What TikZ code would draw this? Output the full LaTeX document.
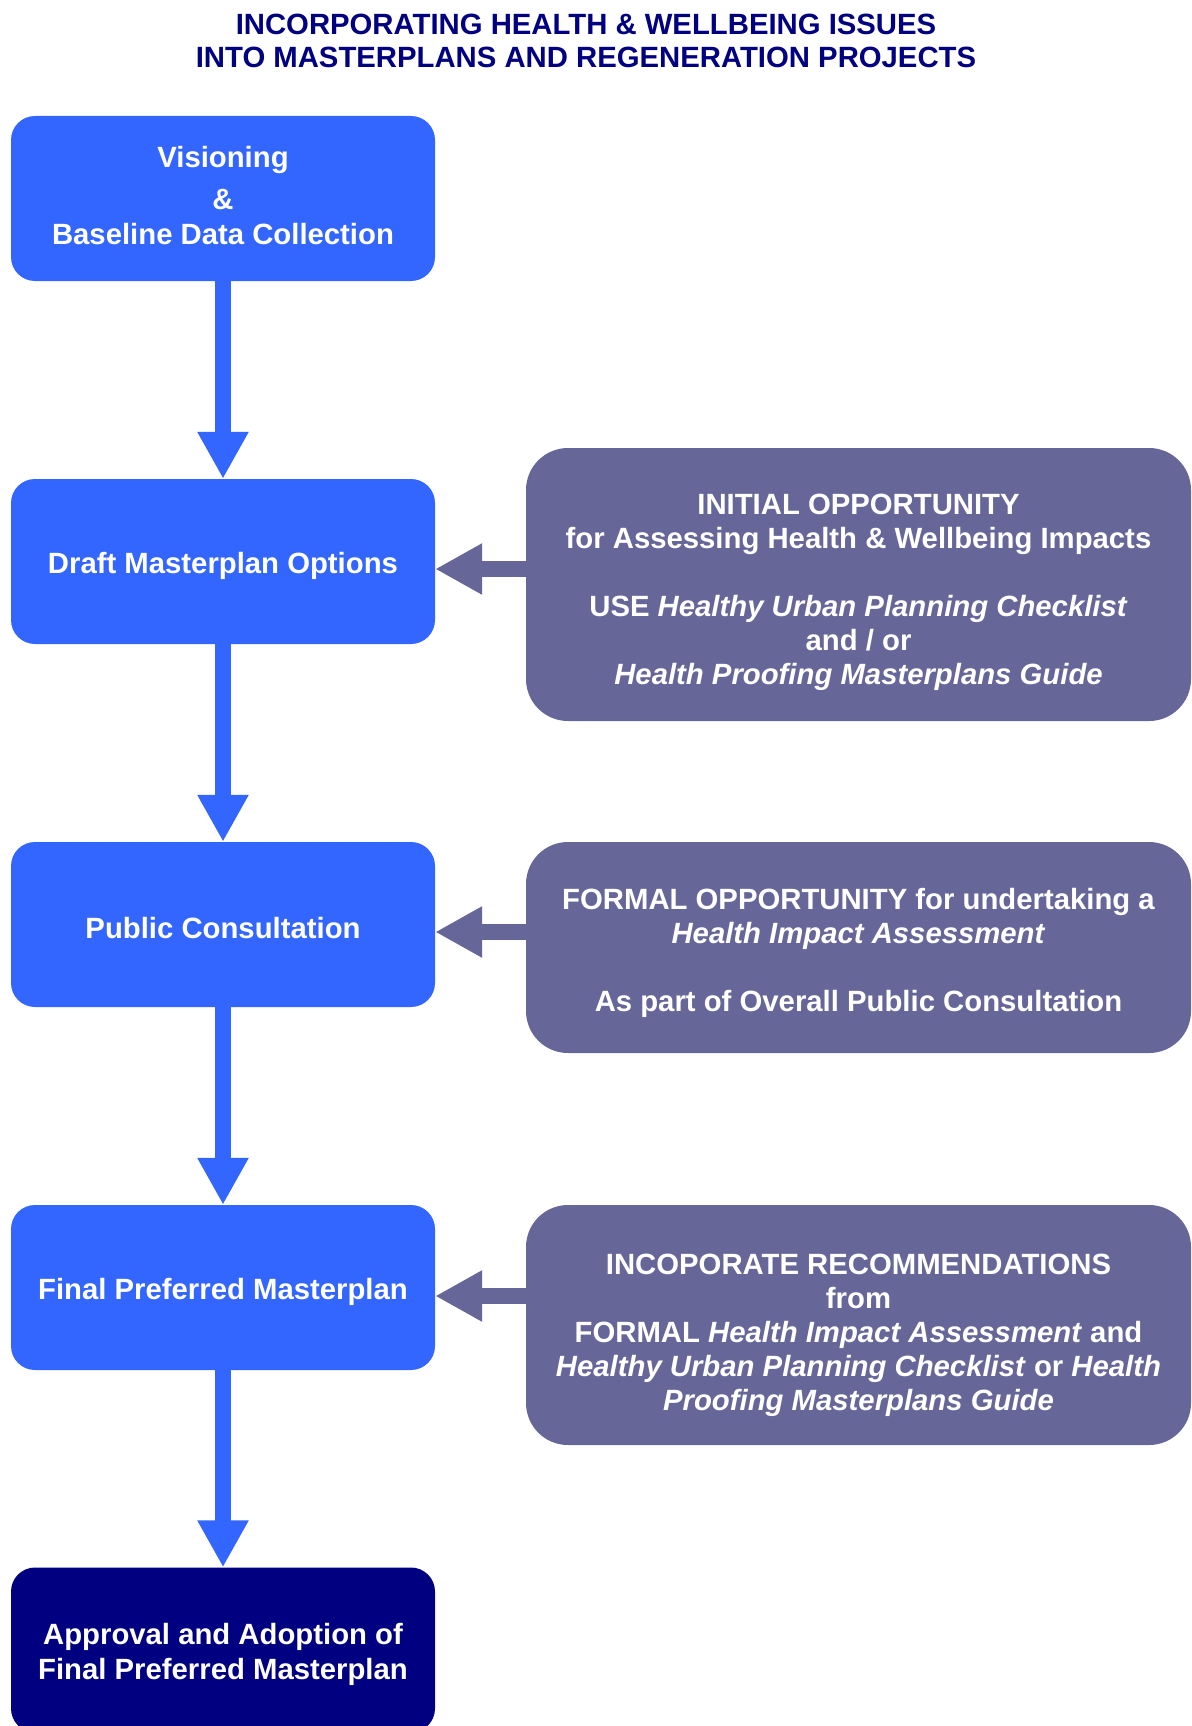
\documentclass[tikz,border=0pt]{standalone}
\usepackage{fontspec}
\setmainfont{Liberation Sans}
\usetikzlibrary{arrows.meta}
\definecolor{stepblue}{RGB}{51,102,255}
\definecolor{sidepurple}{RGB}{102,102,153}
\definecolor{navy}{RGB}{0,0,128}
\newcommand{\topgap}[1]{\rule{0pt}{#1}}
\newcommand{\botgap}[1]{\rule[-#1]{0pt}{#1}}
\tikzset{
  stepbox/.style={fill=stepblue, rounded corners=24pt, minimum width=424pt, minimum height=165pt, inner sep=0pt, text=white, align=center, font=\bfseries\fontsize{29.3}{35}\selectfont},
  finalbox/.style={stepbox, fill=navy},
  sidebox/.style={fill=sidepurple, rounded corners=42pt, minimum width=665pt, inner sep=0pt, text=white, align=center, font=\bfseries\fontsize{29.3}{34}\selectfont},
  downarrow/.style={draw=stepblue, line width=16pt, -{Triangle[width=48pt,length=47pt]}},
  leftarrow/.style={draw=sidepurple, line width=16pt, -{Triangle[width=48pt,length=47pt]}},
  titletext/.style={text=navy, align=center, font=\bfseries\fontsize{29.3}{33}\selectfont}
}
\begin{document}
\begin{tikzpicture}[x=1pt,y=-1pt]
\clip (0,0) rectangle (1191,1726);
\fill[white] (0,0) rectangle (1191,1726);

\node[titletext] (title) at (586,41) {INCORPORATING HEALTH \& WELLBEING ISSUES\\INTO MASTERPLANS AND REGENERATION PROJECTS};

\node[stepbox] (b1) at (223,198.5) {Visioning\\[7pt]\&\\Baseline Data Collection\botgap{6.6pt}};
\node[stepbox] (b2) at (223,561.5) {\topgap{30pt}Draft Masterplan Options};
\node[stepbox] (b3) at (223,924.5) {\topgap{28pt}Public Consultation};
\node[stepbox] (b4) at (223,1287.5) {\topgap{30pt}Final Preferred Masterplan};
\node[finalbox] (b5) at (223,1650) {\topgap{30pt}Approval and Adoption of\\Final Preferred Masterplan};

\node[sidebox, minimum height=273pt] (r1) at (858.5,584.5) {\topgap{36pt}INITIAL OPPORTUNITY\\for Assessing Health \& Wellbeing Impacts\\[34pt]USE \textit{Healthy Urban Planning Checklist}\\and / or\\\textit{Health Proofing Masterplans Guide}};
\node[sidebox, minimum height=211pt] (r2) at (858.5,947.5) {\topgap{32pt}FORMAL OPPORTUNITY for undertaking a\\\textit{Health Impact Assessment}\\[34pt]As part of Overall Public Consultation};
\node[sidebox, minimum height=240pt] (r3) at (858.5,1325) {\topgap{41pt}INCOPORATE RECOMMENDATIONS\\from\\FORMAL \textit{Health Impact Assessment} and\\\textit{Healthy Urban Planning Checklist} or \textit{Health}\\\textit{Proofing Masterplans Guide}};

\draw[downarrow] (b1.south) -- (b2.north);
\draw[downarrow] (b2.south) -- (b3.north);
\draw[downarrow] (b3.south) -- (b4.north);
\draw[downarrow] (b4.south) -- (b5.north);

\coordinate (y1) at (0,569);
\coordinate (y2) at (0,932);
\coordinate (y3) at (0,1296);
\draw[leftarrow] (r1.west |- y1) -- (b2.east |- y1);
\draw[leftarrow] (r2.west |- y2) -- (b3.east |- y2);
\draw[leftarrow] (r3.west |- y3) -- (b4.east |- y3);
\end{tikzpicture}
\end{document}
